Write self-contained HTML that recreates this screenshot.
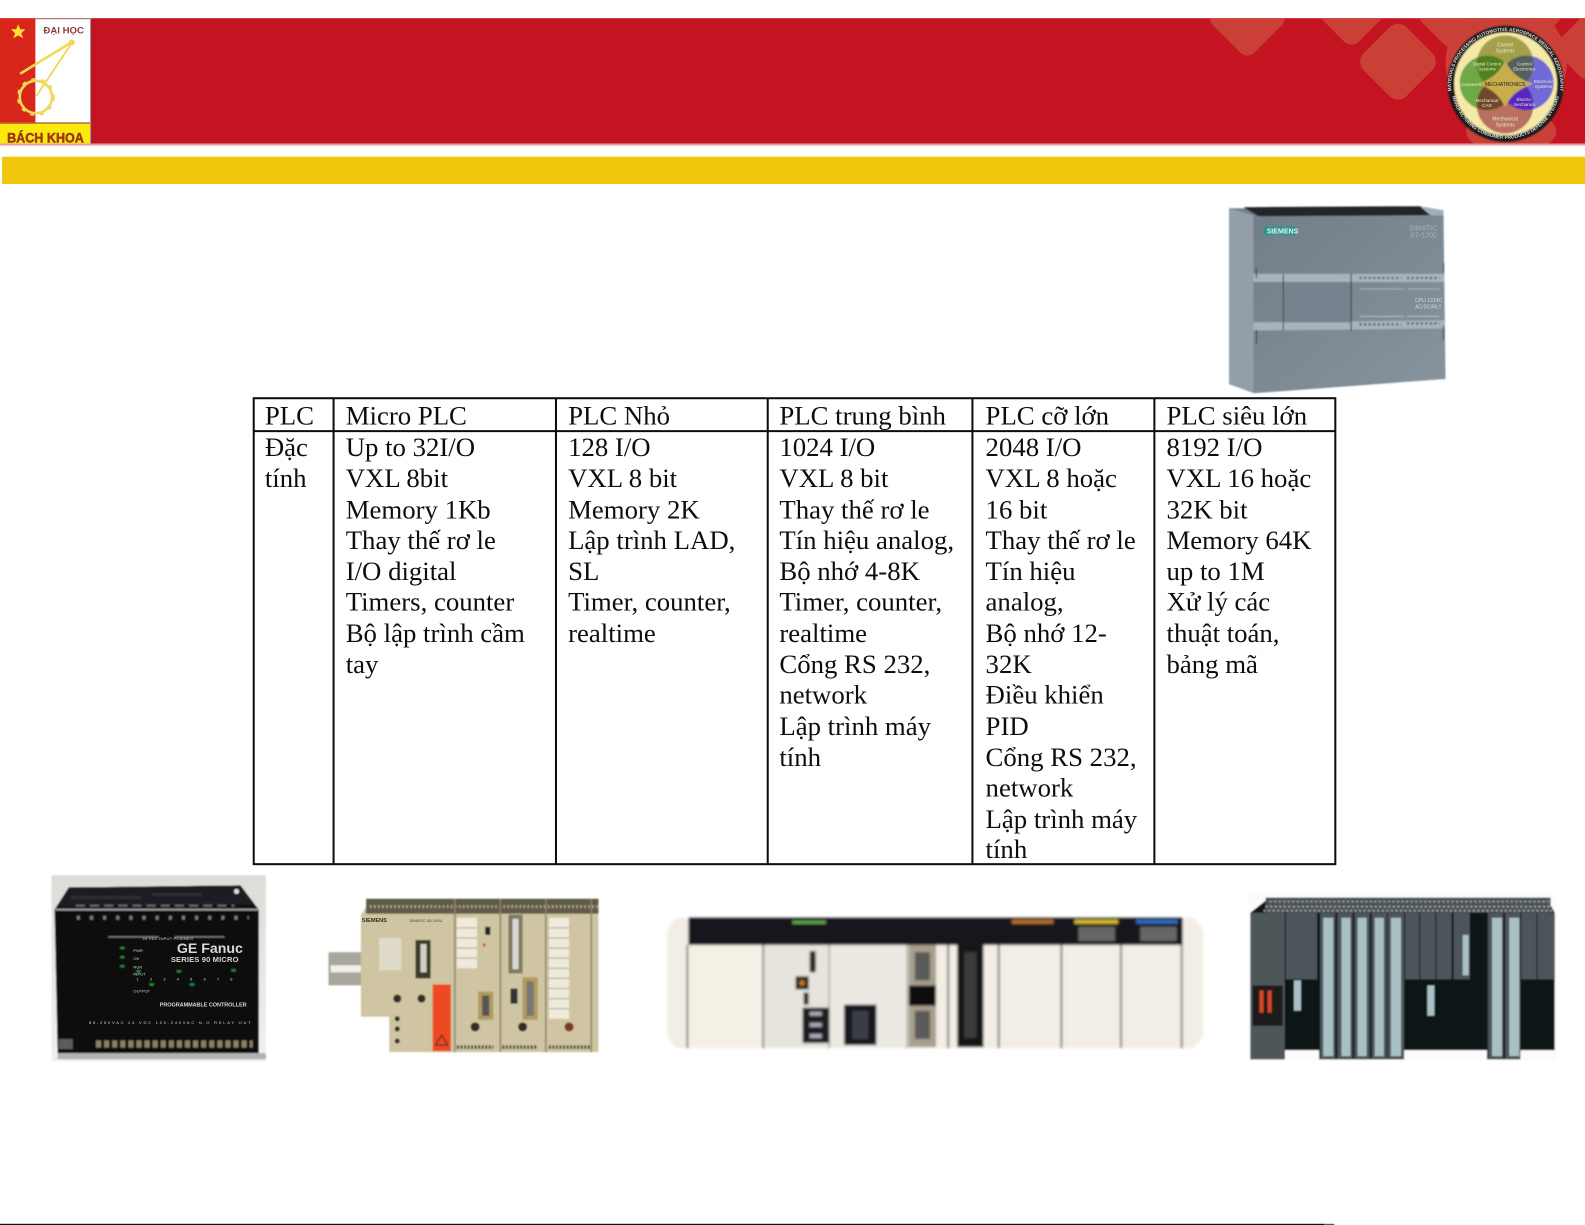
<!DOCTYPE html>
<html lang="vi"><head><meta charset="utf-8"><title>PLC</title>
<style>html,body{margin:0;padding:0;background:#fff;width:1585px;height:1225px;overflow:hidden}svg{display:block}
.t text{font-family:"Liberation Serif",serif;font-size:26.5px;fill:#111}
text{font-family:"Liberation Sans",sans-serif}</style></head><body>
<svg width="1585" height="1225" viewBox="0 0 1568 1212" preserveAspectRatio="none" xmlns="http://www.w3.org/2000/svg">
<defs>
<filter id="b" x="-5%" y="-5%" width="110%" height="110%"><feGaussianBlur stdDeviation="0.7"/></filter>
<filter id="b2" x="-5%" y="-5%" width="110%" height="110%"><feGaussianBlur stdDeviation="1.2"/></filter>
<filter id="bt" x="-2%" y="-2%" width="104%" height="104%"><feGaussianBlur stdDeviation="0.3"/></filter>
<linearGradient id="s12" x1="0" y1="0" x2="1" y2="1"><stop offset="0" stop-color="#6f7c87"/><stop offset="1" stop-color="#87939d"/></linearGradient>
<linearGradient id="gebg" x1="0" y1="0" x2="0" y2="1"><stop offset="0" stop-color="#dedcd8"/><stop offset="1" stop-color="#f1f0ee"/></linearGradient>
<clipPath id="band"><rect x="0" y="18" width="1568" height="124"/></clipPath>
<clipPath id="cT"><circle cx="1489" cy="63" r="28"/></clipPath>
<clipPath id="cB"><circle cx="1489" cy="104" r="28"/></clipPath>
<path id="ringTop" d="M1447 118 A54 54 0 1 1 1532 118"/>
<path id="ringBot" d="M1437 96 A54 54 0 0 0 1542 96"/>
</defs>
<rect width="1568" height="1212" fill="#fff"/>
<!-- header -->
<rect x="0" y="18" width="1568" height="124" fill="#c41422"/>
<rect x="0" y="142" width="1568" height="2" fill="#ee9aa0"/>
<rect x="2" y="155" width="1566" height="27" fill="#f3c60e"/>
<g clip-path="url(#band)" fill="#cb4036">
<rect x="1205" y="-11" width="58" height="58" rx="10" transform="rotate(45 1234 18)"/>
<rect x="1312" y="-12" width="50" height="50" rx="10" transform="rotate(45 1337 13)"/>
<rect x="1353" y="31" width="60" height="60" rx="12" transform="rotate(45 1383 61)"/>
<rect x="1410" y="-10" width="50" height="50" rx="10" transform="rotate(45 1435 15)"/>
<rect x="1500" y="-12" width="44" height="44" rx="10" transform="rotate(45 1522 10)"/>
<rect x="1545" y="22" width="50" height="50" rx="10" transform="rotate(45 1570 47)"/>
<rect x="1460" y="95" width="70" height="70" rx="12" transform="rotate(45 1495 130)"/>
<circle cx="1490" cy="62" r="60"/>
</g>
<!-- logo -->
<rect x="0" y="18" width="90" height="124" fill="#fff"/>
<rect x="0" y="18" width="35" height="105" fill="#d9261b"/>
<rect x="35" y="18" width="55" height="1" fill="#a66"/>
<rect x="0" y="122" width="90" height="20" fill="#fbe90e"/>
<rect x="0" y="121" width="90" height="1.5" fill="#b56a3a"/>
<rect x="89" y="18" width="1" height="124" fill="#999"/>
<polygon points="18,24 20,29 25,29 21,33 23,38 18,35 13,38 15,33 11,29 16,29" fill="#fbe23a"/>
<text x="63" y="33" font-size="9.5" font-weight="bold" fill="#8d3a3a" text-anchor="middle">ĐẠI HỌC</text>
<g fill="none" stroke="#efd85a">
<path d="M72 41 L20 73" stroke-width="2.6"/><path d="M72 41 L36 95" stroke-width="1.8"/>
<circle cx="71" cy="42" r="2.5" fill="#efd85a"/>
<circle cx="35.5" cy="96" r="16" stroke-width="2.6"/>
<circle cx="35.5" cy="96" r="18" stroke-width="1.6" stroke-dasharray="4 6"/>
</g>
<text x="45" y="141" font-size="14" font-weight="bold" fill="#9c3512" stroke="#9c3512" stroke-width=".5" text-anchor="middle" textLength="76" lengthAdjust="spacingAndGlyphs">BÁCH KHOA</text>
<!-- mechatronics circle -->
<g filter="url(#b)">
<circle cx="1489.5" cy="83" r="57.5" fill="#1a1a1a"/>
<circle cx="1489.5" cy="83" r="51" fill="#f5e9a8"/>
<circle cx="1471" cy="82" r="27" fill="#6ea944"/>
<circle cx="1510" cy="82" r="27" fill="#7069d6"/>
<circle cx="1489" cy="63" r="28" fill="#a3a04a"/>
<circle cx="1489" cy="104" r="28" fill="#b96f5e"/>
<g clip-path="url(#cT)"><circle cx="1471" cy="82" r="27" fill="#51801f"/><circle cx="1510" cy="82" r="27" fill="#555e5c"/></g>
<g clip-path="url(#cB)"><circle cx="1471" cy="82" r="27" fill="#6d4a2a"/><circle cx="1510" cy="82" r="27" fill="#5727bd"/></g>
<path d="M1489 60 C1495 72 1502 78 1517 83 C1502 88 1495 94 1489 106 C1483 94 1476 88 1462 83 C1476 78 1483 72 1489 60 Z" fill="#c8ad4d"/>
</g>
<g font-size="5" fill="#e8e8d8" text-anchor="middle">
<text x="1489" y="46">Control</text><text x="1489" y="52">Systems</text>
<text x="1471" y="65" font-size="4.5">Digital Control</text><text x="1471" y="70" font-size="4.5">Systems</text>
<text x="1508" y="65" font-size="4.5">Control</text><text x="1508" y="70" font-size="4.5">Electronics</text>
<text x="1454" y="85" font-size="4.5">Computers</text>
<text x="1527" y="82" font-size="4.5">Electronic</text><text x="1527" y="87" font-size="4.5">Systems</text>
<text x="1471" y="101" font-size="4.5">Mechanical</text><text x="1471" y="106" font-size="4.5">CAD</text>
<text x="1508" y="100" font-size="4.5">Electro-</text><text x="1508" y="105" font-size="4.5">mechanics</text>
<text x="1489" y="119">Mechanical</text><text x="1489" y="125">Systems</text>
<text x="1489" y="85" font-size="5" fill="#222">MECHATRONICS</text>
</g>
<g font-size="4.700" fill="#ddd" font-weight="bold" text-anchor="middle">
<text><textPath href="#ringTop" startOffset="50%">MATERIALS PROCESSING  AUTOMOTIVE  AEROSPACE  MEDICAL  AEROGRAPHY</textPath></text>
<text><textPath href="#ringBot" startOffset="50%">MANUFACTURING CONSUMER PRODUCTS DEFENSE SYSTEMS</textPath></text>
</g>
<!-- S7-1200 -->
<g filter="url(#b)">
<polygon points="1216,206 1428,208 1430,375 1241,389 1216,380" fill="url(#s12)"/>
<polygon points="1216,206 1240,213 1240,389 1216,380" fill="#939ea8"/>
<polygon points="1230,205 1405,204 1415,213 1245,214" fill="#23282c"/>
<polygon points="1405,204 1428,208 1428,213 1415,213" fill="#a3adb5"/>
<rect x="1250" y="224" width="32" height="9" fill="#2b9488"/>
<polygon points="1240,271 1429,271 1429,279 1240,279" fill="#aab2b9"/>
<polygon points="1240,319 1429,317 1429,325 1240,327" fill="#aab2b9"/>
<rect x="1270" y="279" width="66" height="40" fill="#76838e"/>
<rect x="1269" y="271" width="1" height="56" fill="#3b444c"/>
<rect x="1336" y="271" width="1.2" height="56" fill="#3b444c"/>
<g stroke="#444c54" stroke-width="2" stroke-dasharray="2 2.5"><path d="M1345 275H1386M1392 275H1424M1345 321H1386M1392 320H1424"/></g>
<path d="M1345 286H1389M1392 286H1424M1345 313H1389M1392 313H1424" stroke="#c5ccd2" stroke-width=".7"/>
<path d="M1243 265V275M1428 260V270M1243 326V340M1428 322V336" stroke="#333" stroke-width="1"/>
</g>
<g fill="#d5dadf" font-size="7">
<text x="1253" y="231" font-size="7" font-weight="bold" fill="#e8f4f2">SIEMENS</text>
<text x="1394" y="228" fill="#a8b0b7">SIMATIC</text><text x="1395" y="235" fill="#a8b0b7">S7-1200</text>
<text x="1400" y="299" font-size="5">CPU 1214C</text><text x="1400" y="305" font-size="5">AC/DC/RLY</text>
</g>
<!-- table -->
<g stroke="#0c0c0c" stroke-width="2" fill="none">
<rect x="251" y="394" width="1070" height="461" fill="#fff"/>
<path d="M251 426.500H1321M330 394V855M550 394V855M759.500 394V855M962 394V855M1142 394V855"/>
</g>
<g class="t" filter="url(#bt)">
<text x="262" y="420">PLC</text><text x="342" y="420">Micro PLC</text><text x="562" y="420">PLC Nhỏ</text><text x="771" y="420">PLC trung bình</text><text x="975" y="420">PLC cỡ lớn</text><text x="1154" y="420">PLC siêu lớn</text>
<text x="262" y="451">Đặc</text><text x="262" y="482">tính</text>
<text x="342" y="451">Up to 32I/O</text><text x="342" y="482">VXL 8bit</text><text x="342" y="513">Memory 1Kb</text><text x="342" y="543">Thay thế rơ le</text><text x="342" y="574">I/O digital</text><text x="342" y="604">Timers, counter</text><text x="342" y="635">Bộ lập trình cầm</text><text x="342" y="666">tay</text>
<text x="562" y="451">128 I/O</text><text x="562" y="482">VXL 8 bit</text><text x="562" y="513">Memory 2K</text><text x="562" y="543">Lập trình LAD,</text><text x="562" y="574">SL</text><text x="562" y="604">Timer, counter,</text><text x="562" y="635">realtime</text>
<text x="771" y="451">1024 I/O</text><text x="771" y="482">VXL 8 bit</text><text x="771" y="513">Thay thế rơ le</text><text x="771" y="543">Tín hiệu analog,</text><text x="771" y="574">Bộ nhớ 4-8K</text><text x="771" y="604">Timer, counter,</text><text x="771" y="635">realtime</text><text x="771" y="666">Cổng RS 232,</text><text x="771" y="696">network</text><text x="771" y="727">Lập trình máy</text><text x="771" y="758">tính</text>
<text x="975" y="451">2048 I/O</text><text x="975" y="482">VXL 8 hoặc</text><text x="975" y="513">16 bit</text><text x="975" y="543">Thay thế rơ le</text><text x="975" y="574">Tín hiệu</text><text x="975" y="604">analog,</text><text x="975" y="635">Bộ nhớ 12-</text><text x="975" y="666">32K</text><text x="975" y="696">Điều khiển</text><text x="975" y="727">PID</text><text x="975" y="758">Cổng RS 232,</text><text x="975" y="788">network</text><text x="975" y="819">Lập trình máy</text><text x="975" y="849">tính</text>
<text x="1154" y="451">8192 I/O</text><text x="1154" y="482">VXL 16 hoặc</text><text x="1154" y="513">32K bit</text><text x="1154" y="543">Memory 64K</text><text x="1154" y="574">up to 1M</text><text x="1154" y="604">Xử lý các</text><text x="1154" y="635">thuật toán,</text><text x="1154" y="666">bảng mã</text>
</g>
<!-- GE Fanuc -->
<g filter="url(#b)">
<rect x="51" y="866" width="212" height="184" fill="url(#gebg)"/>
<polygon points="54,900 68,878 238,876 256,900 256,1042 57,1042" fill="#0e0e0e"/>
<polygon points="68,878 238,876 250,895 58,897" fill="#1c1e20"/>
<rect x="55" y="899" width="201" height="2" fill="#9a9d9d"/>
<path d="M75 896H232" stroke="#6a6a6a" stroke-width="2" stroke-dasharray="9 5"/>
<path d="M70 888H140M150 885H200" stroke="#2c2e30" stroke-width="3"/>
<path d="M76 908H246" stroke="#7a7a7a" stroke-width="4" stroke-dasharray="3 10"/>
<path d="M95 1033H250" stroke="#8a7f60" stroke-width="7" stroke-dasharray="5 3"/>
<rect x="58" y="1028" width="14" height="10" fill="#5c5c5c"/>
<rect x="57" y="1042" width="206" height="6" fill="#666" opacity=".45"/>
<circle cx="234" cy="882" r="2.5" fill="#ddd"/>
<path d="M107 927H157M173 927H222" stroke="#9a9a9a" stroke-width=".8"/>
<g fill="#1c9a3a"><rect x="119" y="937" width="4" height="2"/><rect x="119" y="946" width="4" height="2"/><rect x="119" y="955" width="4" height="2"/><rect x="135" y="960" width="4" height="2"/><rect x="175" y="960" width="4" height="2"/><rect x="229" y="959" width="4" height="2"/><rect x="148" y="973" width="4" height="2"/><rect x="188" y="973" width="4" height="2"/></g>
</g>
<g fill="#d8d8d8">
<text x="175" y="943" font-size="14" font-weight="bold">GE Fanuc</text>
<text x="169" y="952" font-size="7.500" font-weight="bold" textLength="67">SERIES 90 MICRO</text>
<text x="158" y="996" font-size="5.500" font-weight="bold" textLength="86">PROGRAMMABLE CONTROLLER</text>
<text x="141" y="930" font-size="4" textLength="50">24 VDC INPUT POS/NEG</text>
<text x="132" y="942" font-size="4">PWR</text><text x="132" y="950" font-size="4">OK</text><text x="132" y="958" font-size="4">RUN</text><text x="132" y="965" font-size="4">INPUT</text>
<text x="132" y="982" font-size="4">OUTPUT</text>
<text x="135" y="970" font-size="4" textLength="95">1    2    3    4    5    6    7    8</text>
<text x="88" y="1013" font-size="4" textLength="160">85-250VAC   24 VDC 120-240VAC  N.O RELAY OUT</text>
</g>
<!-- S5-100U -->
<g filter="url(#b)">
<rect x="325" y="880" width="267" height="161" fill="#fff"/>
<rect x="325" y="942" width="35" height="33" fill="#a9a69d"/>
<rect x="327" y="955" width="30" height="7" fill="#f2f0ea"/>
<polygon points="357,905 368,889 592,889 592,1041 385,1041 385,1006 357,1006" fill="#cfc5a2"/>
<rect x="362" y="889" width="230" height="15" fill="#5e5a4a"/>
<g fill="none" stroke="#b8ae8e" stroke-width="3" stroke-dasharray="1.500 2.500"><path d="M366 897H592"/></g>
<rect x="375" y="928" width="22" height="32" fill="#e0dac8"/>
<rect x="411" y="930" width="15" height="38" fill="#3d3a28"/><rect x="416" y="934" width="6" height="28" fill="#cfcfc8"/>
<rect x="428" y="974" width="18" height="66" fill="#ee4a20"/>
<path d="M450 889V1041M495 889V1041M540 889V1041M585 889V1041" stroke="#8a8268" stroke-width="1.500"/>
<g fill="#efeadb"><rect x="452" y="908" width="20" height="50"/><rect x="543" y="908" width="20" height="100"/></g>
<path d="M452 918H472M452 928H472M452 938H472M452 948H472M543 918H563M543 928H563M543 938H563M543 948H563M543 958H563M543 968H563M543 978H563M543 988H563M543 998H563" stroke="#aaa58f"/>
<rect x="503" y="905" width="14" height="58" fill="#7f7962"/><rect x="507" y="909" width="6" height="50" fill="#d7d7d2"/>
<rect x="473" y="981" width="15" height="28" fill="#b29a5f"/><rect x="477" y="985" width="7" height="20" fill="#555"/>
<rect x="517" y="967" width="15" height="42" fill="#b29a5f"/><rect x="521" y="971" width="7" height="34" fill="#777"/>
<rect x="505" y="978" width="7" height="15" fill="#333"/>
<rect x="480" y="917" width="5" height="8" fill="#222"/>
<g fill="#332f24"><circle cx="393" cy="988" r="4"/><circle cx="417" cy="988" r="4"/><circle cx="470" cy="1016" r="4.500"/><circle cx="517" cy="1016" r="4.500"/><circle cx="563" cy="1016" r="4.500" fill="#7a3a22"/><circle cx="393" cy="1008" r="2.500"/><circle cx="393" cy="1018" r="2.500"/><circle cx="393" cy="1030" r="2.500"/><circle cx="479" cy="935" r="1.500" fill="#c33"/></g>
<path d="M452 1036H488M497 1036H532M543 1036H585" stroke="#3a372b" stroke-width="3.500" stroke-dasharray="2 1.500"/>
<polygon points="437,1024 431,1034 443,1034" fill="none" stroke="#222"/>
</g>
<text x="358" y="912" font-size="5.500" font-weight="bold" fill="#33301f">SIEMENS</text>
<text x="405" y="912" font-size="4" fill="#444">SIMATIC S5-100U</text>
<!-- Omron -->
<g filter="url(#b2)">
<path d="M670 908H1180Q1190 916 1190 925V1022Q1190 1030 1180 1037H670Q660 1030 660 1022V925Q660 916 670 908Z" fill="#f3eee5"/>
<rect x="681" y="908" width="489" height="27" fill="#17181a"/>
<path d="M680 935V1037M755 935V1037M820 935V1037M897 935V1037M938 935V1037M988 935V1037M1050 935V1037M1109 935V1037M1169 935V1037" stroke="#777" stroke-width="2"/>
<rect x="681" y="935" width="73" height="101" fill="#f4f0e5"/>
<rect x="756" y="935" width="64" height="101" fill="#e6e4dc"/>
<rect x="821" y="935" width="76" height="101" fill="#ebe9e2"/>
<rect x="899" y="935" width="27" height="101" fill="#a89f8d"/>
<rect x="947" y="935" width="26" height="101" fill="#161616"/>
<rect x="954" y="942" width="12" height="85" fill="#3a3a3a"/>
<rect x="801" y="941" width="6" height="16" fill="#2a2a2a"/>
<rect x="801" y="948" width="6" height="14" fill="#2a2a2a"/>
<rect x="787" y="966" width="13" height="13" fill="#222"/><rect x="791" y="970" width="5" height="5" fill="#c77a18"/>
<rect x="795" y="982" width="5" height="12" fill="#2a2a2a"/>
<rect x="794" y="997" width="26" height="35" fill="#1a1a1a"/>
<path d="M801 1003H813M801 1014H813M801 1025H813" stroke="#aab" stroke-width="4"/>
<rect x="835" y="994" width="32" height="40" fill="#16181a"/><rect x="843" y="1000" width="16" height="28" fill="#3a3e44"/>
<rect x="905" y="942" width="15" height="28" fill="#5a5a5a"/>
<rect x="899" y="975" width="27" height="20" fill="#111"/>
<rect x="905" y="1000" width="15" height="28" fill="#5a5a5a"/>
<rect x="784" y="911" width="33" height="3" fill="#63b04a"/>
<rect x="1001" y="910" width="41" height="4" fill="#b5702a"/>
<rect x="1063" y="910" width="43" height="4" fill="#d9bc2a"/>
<rect x="1124" y="910" width="41" height="4" fill="#2a6ec2"/>
<rect x="1067" y="917" width="36" height="14" fill="#666"/>
<rect x="1128" y="917" width="36" height="14" fill="#666"/>
</g>
<!-- S7-400 -->
<g filter="url(#b)">
<rect x="1236" y="885" width="304" height="164" fill="#fbfbfb"/>
<polygon points="1237,903 1256,888 1530,889 1538,903 1538,1039 1504,1039 1504,1048 1471,1048 1471,1039 1389,1039 1389,1048 1305,1048 1305,1039 1271,1039 1271,1048 1237,1048" fill="#101214"/>
<rect x="1252" y="888" width="282" height="15" fill="#4c5357"/>
<g stroke="#aeb4b7" stroke-width="1.400" stroke-dasharray="2 2.500" fill="none"><path d="M1256 892H1532M1252 897H1536M1250 901H1536"/></g>
<rect x="1237" y="903" width="34" height="145" fill="#4d5659"/>
<rect x="1239" y="975" width="30" height="40" fill="#1c1e1f"/>
<rect x="1246" y="980" width="4" height="22" fill="#d84424"/><rect x="1254" y="980" width="4" height="22" fill="#d84424"/>
<g fill="#4c555a">
<rect x="1272" y="903" width="31" height="66"/><rect x="1306" y="903" width="15" height="145"/><rect x="1323" y="903" width="15" height="145"/><rect x="1340" y="903" width="15" height="145"/><rect x="1357" y="903" width="15" height="145"/><rect x="1373" y="903" width="16" height="145"/>
<rect x="1390" y="903" width="14" height="66"/><rect x="1405" y="903" width="15" height="66"/><rect x="1421" y="903" width="15" height="66"/><rect x="1438" y="903" width="16" height="66"/><rect x="1472" y="903" width="15" height="145"/><rect x="1489" y="903" width="15" height="145"/><rect x="1505" y="903" width="15" height="66"/><rect x="1521" y="903" width="17" height="66"/>
</g>
<g fill="#a8c0c4">
<rect x="1309" y="908" width="10" height="137"/><rect x="1327" y="908" width="9" height="137"/><rect x="1343" y="908" width="9" height="137"/><rect x="1360" y="908" width="9" height="137"/><rect x="1376" y="908" width="10" height="137"/><rect x="1476" y="908" width="10" height="137"/><rect x="1493" y="908" width="10" height="137"/>
<rect x="1280" y="970" width="7" height="30"/><rect x="1412" y="975" width="7" height="30"/><rect x="1447" y="925" width="6" height="40"/>
</g>
</g>
<rect x="0" y="1210.800" width="1310" height="1.500" fill="#111"/>
<rect x="1310" y="1210.800" width="10" height="1.500" fill="#557"/>
</svg></body></html>
